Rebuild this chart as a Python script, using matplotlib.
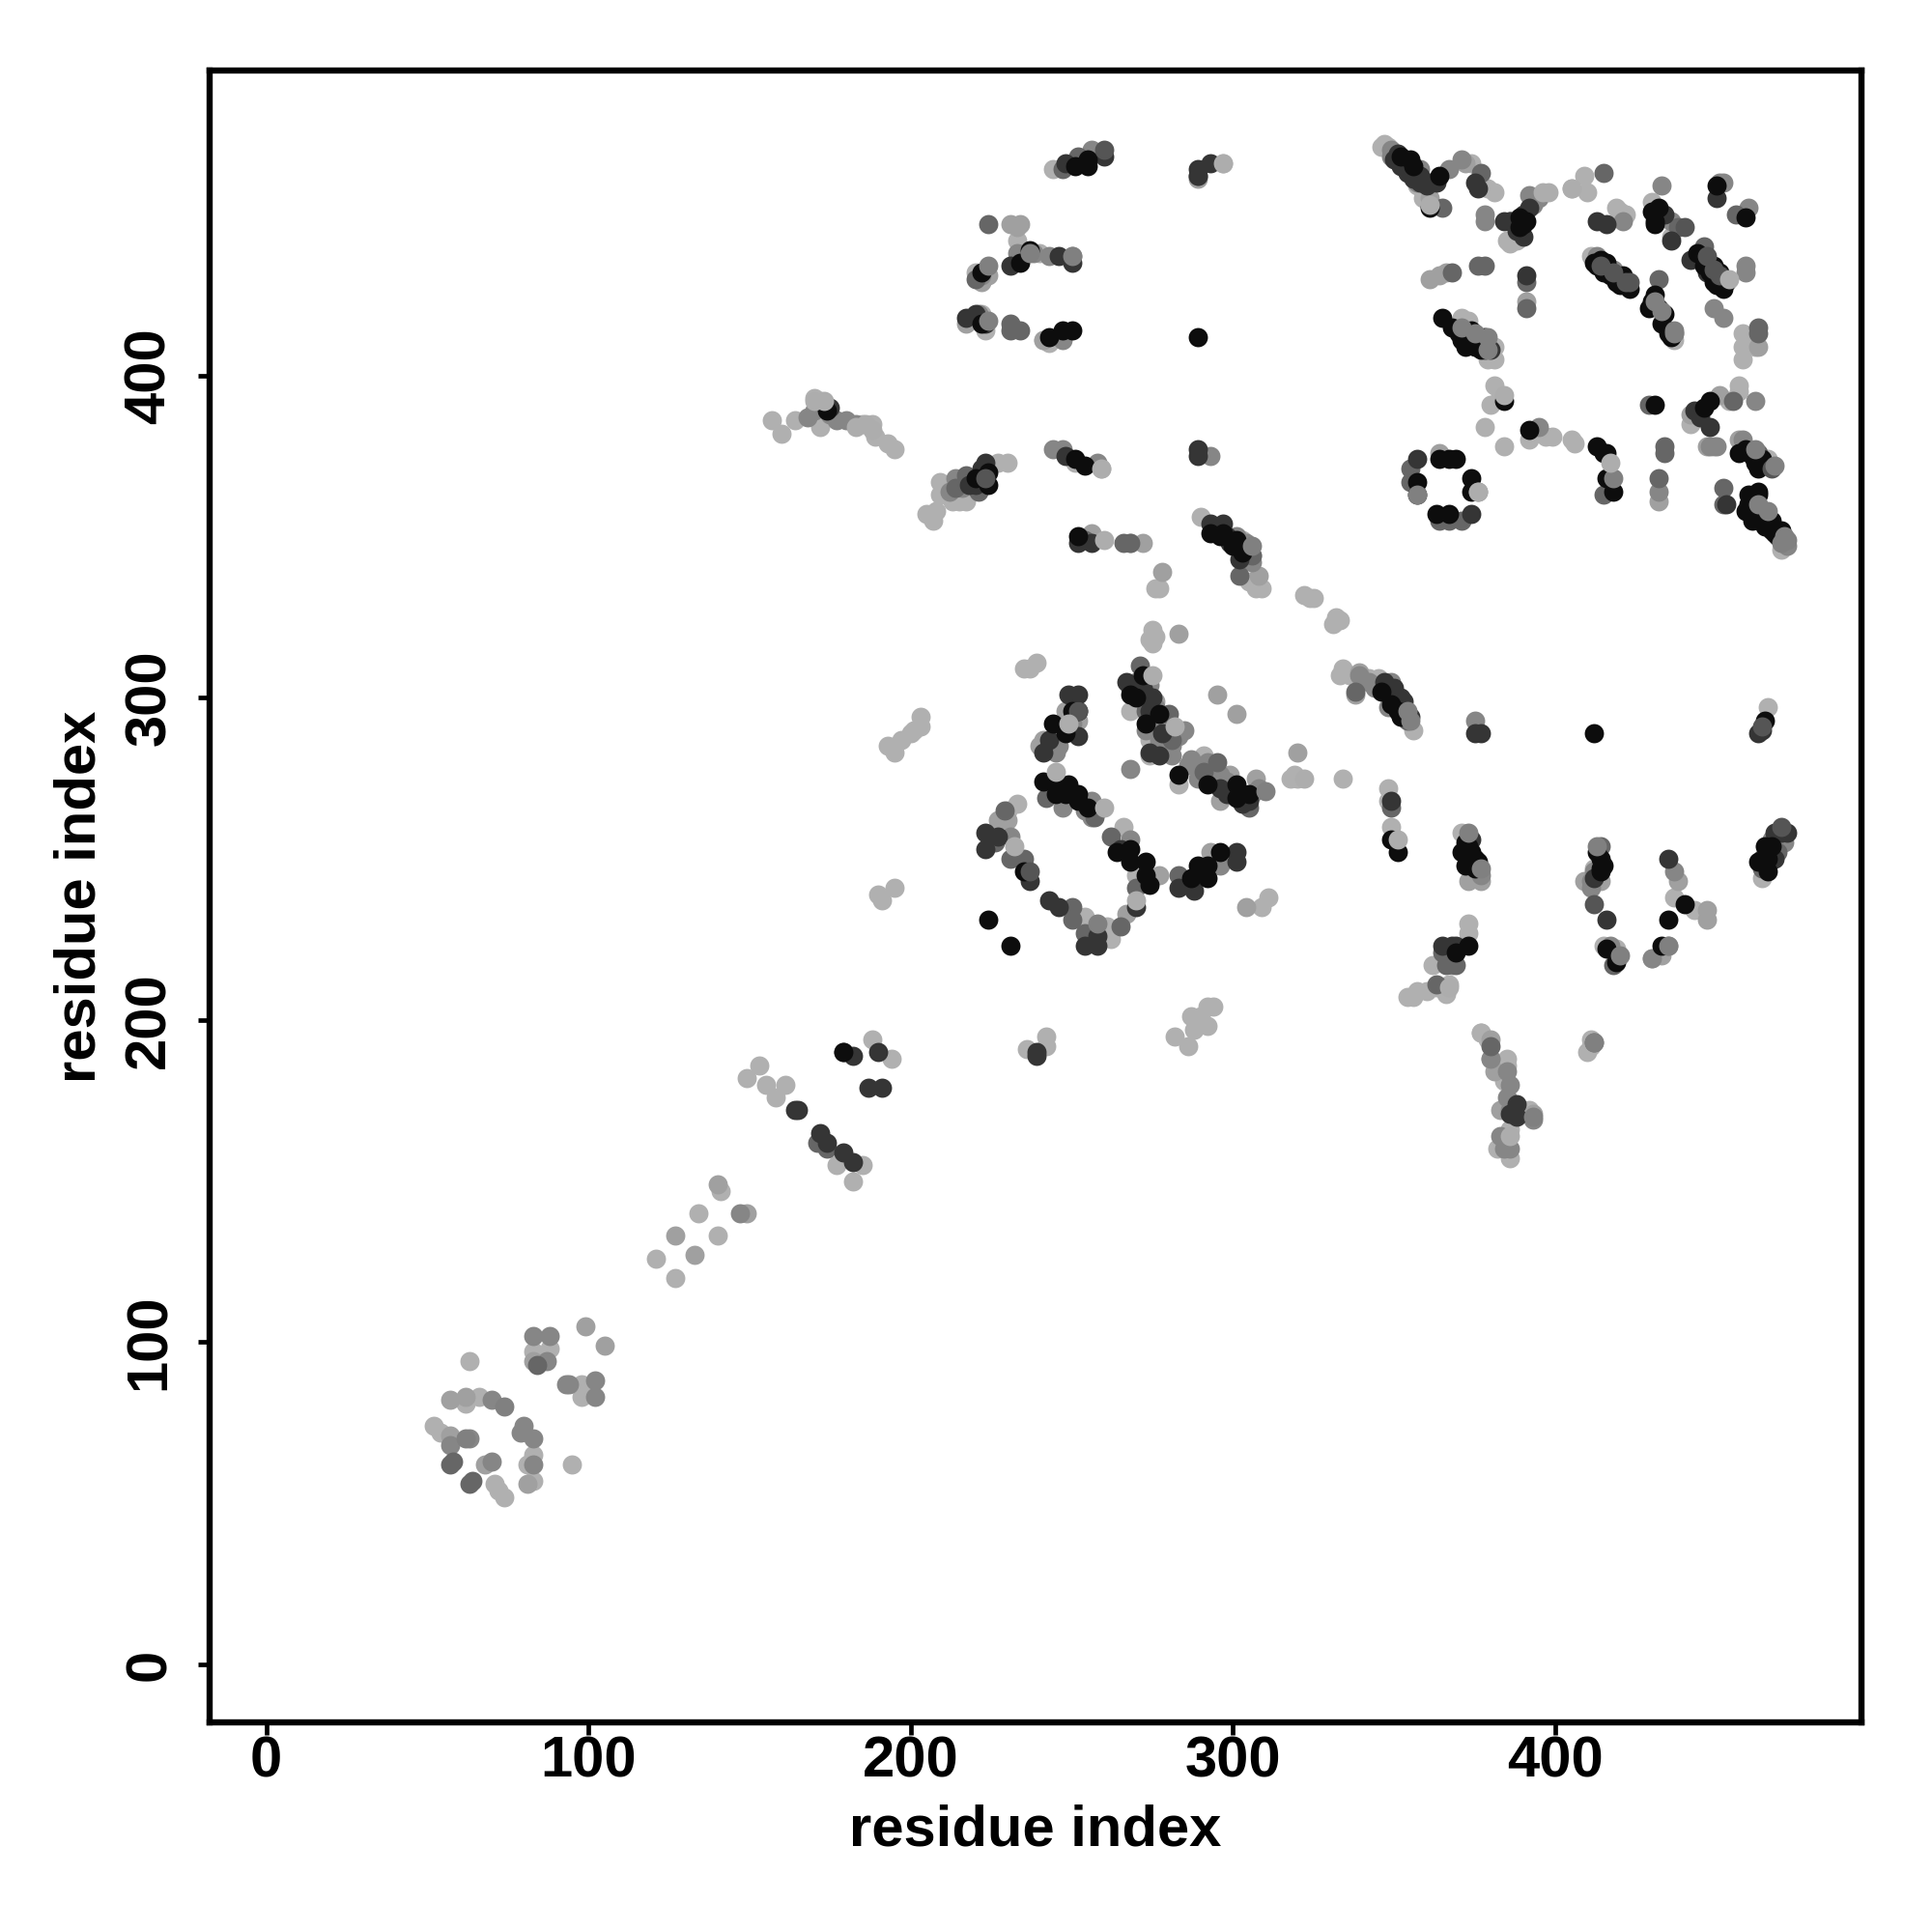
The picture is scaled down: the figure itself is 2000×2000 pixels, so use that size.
import matplotlib
matplotlib.use("Agg")
import matplotlib.pyplot as plt

# contact points as (residue i, residue j), one list per grey level
light = [(346,471),(347,472),(348,471),(357,459),(359,455),(361,453),(374,466),(379,458),(381,457),(385,442),(388,442),(386,441),
         (405,458),(409,462),(410,457),(420,451),(419,452),(422,450),(430,454),(436,443),(411,437),(437,411),(458,413),(458,409),(462,409),(458,405),
         (381,409),(381,405),(379,405),(373,417),(371,418),(381,397),(380,391),(383,394),(378,384),(384,378),(392,380),(405,380),(406,379),(395,383),(397,381),(399,381),
         (457,397),(457,395),(454,392),(442,385),(458,378),(466,374),(471,347),(470,346),(461,356),(465,254),
         (244,464),(297,466),(233,442),(220,432),(222,419),(223,414),(241,411),(243,410),(240,438),(227,373),(230,373),(209,367),(209,363),(213,361),(215,361),(207,355),(205,357),(208,358),(217,361),(259,371),(251,373),
         (290,356),(303,349),(307,334),(309,334),(305,336),(276,334),(277,334),(324,331),(325,331),(322,332),(331,323),(332,325),(333,324),
         (334,308),(333,307),(338,307),(342,306),(345,306),(349,303),(356,290),(348,272),(348,268),(349,260),(371,258),(377,196),(373,230),(373,227),(362,217),(363,210),(357,209),(356,207),(354,207),(360,209),(367,211),(366,208),
         (385,188),(411,194),(411,192),(410,190),(466,297),(464,244),(334,275),(412,247),(415,223),(419,222),(443,234),(437,238),
         (275,321),(276,319),(275,317),(274,318),(235,309),(237,309),(239,311),(268,296),(274,287),(274,282),(283,273),(291,282),(320,275),(318,275),(319,276),(334,309),(336,307),(233,267),(230,265),(254,232),(256,228),(262,225),(261,229),(266,260),(270,245),(309,235),(311,238),
         (191,237),(190,239),(195,241),(193,285),(195,283),(197,287),(200,289),(203,291),(203,294),(201,290),
         (157,386),(160,382),(164,386),(170,393),(172,392),(172,384),(185,385),(188,385),(189,381),(193,379),(195,377),
         (149,182),(153,186),(155,180),(161,180),(158,176),(177,155),(185,155),(182,150),(188,194),(194,188),
         (294,204),(292,204),(290,201),(287,201),(292,198),(288,197),(282,195),(286,192),(236,191),(242,195),(242,192),
         (141,147),(134,140),(140,133),(121,126),(127,120),(83,97),(88,98),(63,94),(98,87),(98,83),(62,81),(66,83),(52,74),(54,72),(71,56),(72,54),(74,52),(83,65),(81,62),(83,57),(95,62),
         (377,196),(379,194),(385,186),(384,181),(392,172),(390,172),(386,166),(382,160),(386,157)]

midlight = [(364,376),(372,466),(361,455),(391,423),(442,388),(451,394),(463,409),
            (366,432),(364,431),(361,430),(432,361),(449,378),(447,378),(457,380),
            (224,431),(222,429),(231,447),(234,447),(233,446),(241,411),(218,417),(217,416),(241,287),(289,461),(256,351),(272,348),(268,348),(278,339),(308,338),(306,344),(277,245),
            (338,301),(344,304),(373,243),(419,218),(430,219),(414,243),(413,243),(377,243),(380,194),(433,220),(438,243),(447,234),(447,231),
            (248,296),(252,293),(240,285),(276,299),(296,268),(299,276),(307,275),(295,301),(301,295),(320,283),(339,308),(227,262),(230,262),(267,233),(293,252),(304,235),(283,320),(409,243),
            (140,149),(127,133),(133,127),(105,99),(99,105),(83,94),(57,82),(62,83),(57,71),(68,62),(81,56),(149,140),(380,188),(381,184),(383,172),(393,171)]

mid = [(349,470),(350,469),(356,462),(357,461),(367,464),(371,467),(378,450),(378,448),(392,456),(421,448),(436,448),(449,421),(452,418),(451,460),(460,452),(459,434),(459,432),(433,459),(437,413),(395,384),(452,460),(413,437),(418,433),(462,392),(357,460),
       (256,470),(285,290),(222,431),(247,411),(244,377),(247,377),(258,373),(301,350),(293,375),(243,437),(233,438),(238,438),(245,283),(250,437),(221,419),
       (348,297),(350,301),(339,307),(350,298),(375,293),(412,246),(411,243),(417,223),(435,223),(437,246),(368,217),(367,221),(342,305),(458,380),(470,256),(468,254),
       (380,188),(385,184),(386,180),(385,176),(386,172),(384,160),
       (287,281),(278,291),(295,273),(250,292),(250,270),(256,268),(231,257),(277,287),(273,290),(268,278),(283,288),(282,290),(292,280),
       (83,102),(88,102),(87,94),(93,87),(94,87),(102,88),(102,83),(70,82),(63,70),(57,68),(80,74),(79,72),(83,70),(83,62),(70,63),(147,140),
       (448,378),(450,378),(432,364),(268,256),(296,248),(430,219),(383,164),(386,160),(393,169)]

middark = [(353,467),(377,463),(365,452),(391,429),(391,421),(456,450),(455,392),(464,357),(368,432),(376,434),(378,434),(438,446),
           (252,468),(247,464),(224,447),(220,430),(231,416),(231,414),(234,414),(254,349),(289,462),(306,344),(302,338),(266,348),(268,348),
           (217,369),(221,364),(214,365),(338,302),(351,300),(354,293),(434,378),(452,360),(434,376),(463,415),
           (349,266),(414,254),(464,247),(469,252),(365,221),(369,217),(366,217),(363,211),(380,192),(412,193),(418,217),
           (271,310),(273,296),(280,295),(281,287),(262,257),(295,280),(291,277),(305,266),(242,269),(257,263),(229,265),(226,255),(231,250),(235,250),(250,235),(250,231),(254,227),(265,229),(283,245),(270,241),
           (84,93),(57,62),(63,56),(58,63),(64,57),
           (415,363),(364,355),(355,371),(355,367),(367,355),(371,355),(415,463),(432,368),(429,391),(463,376),(452,365),(446,440),(432,430),(171,162),(174,160),(463,413)]

dark = [(351,469),(354,465),(358,460),(361,460),(363,460),(376,458),(375,460),(384,448),(386,448),(390,443),(413,448),(416,447),(434,450),(436,442),(442,436),(446,436),(447,432),(450,455),(376,412),(380,408),(391,431),(448,384),(443,389),(445,387),(374,357),(357,374),
        (248,466),(260,468),(289,464),(293,466),(289,462),(231,434),(217,418),(220,419),(223,416),(246,437),(250,435),(223,373),(248,375),(289,377),(289,375),(252,348),(256,348),(293,354),(297,354),
        (349,268),(375,289),(377,289),(369,223),(368,223),(365,223),(435,250),(416,231),(468,258),(466,248),(453,360),(464,290),(463,289),
        (249,301),(252,301),(241,283),(267,305),(273,301),(277,282),(223,258),(223,253),(227,257),(237,243),(243,237),(246,235),(258,226),(254,223),(258,223),(270,235),(265,253),(283,241),(301,252),(301,249),(288,240),
        (164,172),(165,172),(172,165),(174,162),(179,159),(182,156),(187,179),(191,179),(190,190),(239,190),(239,189),(179,190),(182,189),(388,174),(386,171),(388,170)]

black = [(352,468),(355,467),(356,465),(364,462),(361,452),(391,448),(389,446),(390,447),(431,448),(430,451),(432,452),(431,447),(416,435),(418,431),(421,431),(420,428),(449,434),(451,432),(449,429),(451,429),(450,431),(459,449),(450,459),
         (365,418),(368,415),(374,414),(376,412),(378,412),(384,392),(392,383),(413,378),(415,376),(416,376),(418,364),(416,368),(431,391),(448,392),(446,390),(457,376),(463,364),(460,363),(463,363),(460,360),(467,355),(465,353),(468,351),(470,350),
         (357,367),(357,363),(364,374),(367,374),(369,374),(374,368),(374,364),(363,357),(367,357),
         (251,465),(255,465),(255,467),(222,432),(234,435),(237,439),(222,416),(243,412),(247,414),(250,414),(289,412),(251,374),(254,372),(293,351),(296,350),(300,347),(220,368),(252,350),
         (346,302),(351,296),(349,256),(351,252),(372,255),(371,252),(375,250),(375,247),(412,289),(414,250),(414,247),(416,222),(419,218),(435,231),(440,236),(417,368),(433,223),(373,223),(369,221),(466,250),(465,254),(465,293),
         (252,296),(244,292),(248,289),(273,292),(268,301),(272,307),(277,295),(241,274),(245,273),(245,270),(249,273),(252,268),(235,246),(224,231),(231,223),(268,253),(273,249),(274,242),(287,244),(289,248),(292,248),(292,244),(296,252),(283,276),(292,273),(301,273),(301,269),(305,270),(268,249),(273,245),
         (174,389),(179,190),(264,252)]

# thick parts of the diagonal streaks
streak_mid = [(349,468),(351,467),(353,465),(355,463),(357,463),(358,464),(393,453),(395,455),(344,303),(347,304),(349,305),(352,297),(353,295),
              (175,388),(177,386),(180,386),(183,385),(170,389),(168,387),(296,352),(300,348),(302,346),(304,348),(306,342),(212,364),(214,368),(216,365),
              (377,245),(411,241),(467,256),(471,255),(469,258),(247,266),(254,265),(256,263),(258,265),(246,285),(270,305),(274,304),(276,297),(279,292),(280,288),(281,285),(278,284),(281,282),
              (286,279),(289,275),(292,278),(296,276),(298,274),(300,272),(302,270),(304,268),(306,270),(308,272),(472,347)]
streak_dark = [(350,467),(352,465),(354,463),(356,461),(358,462),(360,459),(386,448),(388,445),(390,450),(392,452),(378,408),(347,305),(350,303),(352,300),(353,299),(355,294),
               (175,390),(295,352),(298,350),(299,348),(303,346),(302,343),(220,366),(222,371),(218,366),(374,256),(412,244),(466,252),(468,250),(464,250),(470,258),(472,258),
               (243,287),(252,288),(269,304),(272,303),(275,300),(274,296),(278,289),(268,303),(274,283),(296,272),(298,270),(303,267),(305,268)]
streak_black = [(413,434),(415,432),(417,431),(419,429),(421,429),(423,427),(412,435),(414,436),(430,423),(432,421),(434,419),(433,416),(435,413),(436,412),(431,425),(429,421),
                (444,438),(446,434),(448,432),(450,428),(452,427),(453,429),(370,413),(371,411),(372,409),(374,411),(373,413),(375,409),(377,408),(389,449),
                (459,377),(461,375),(462,373),(464,374),(463,371),(459,358),(461,355),(463,358),(465,356),(467,352),(469,350),(470,352),
                (349,298),(352,294),(297,351),(301,349),(303,345),(224,366),(224,370),(373,254),(373,250),(374,252),(376,249),(372,248),(413,252),(414,246),(415,248),
                (467,254),(463,249),(466,246),(248,270),(252,270),(255,266),(248,291),(250,296),(270,300)]

# points that sit on top of the others in the picture
top_dark = [(260,470),(223,368),(237,246),(440,446),(412,236),(252,296),(423,429),(467,371),(464,291),(470,260),(414,434),(418,432),(422,429),(447,437),(449,433),(451,431)]
top_mid = [(224,434),(224,417),(376,364),(306,347),(237,438),(373,258),(377,247),(420,220),(435,223),(418,368),(412,193),(310,271),(258,230),(250,437),(74,80),(62,70),(357,363),(437,413),(393,170),(413,254),
           (433,420),(437,414),(431,423),(371,415),(375,413),(379,412),(379,408),(462,377),(468,372),(463,360),(466,358),(471,350),(470,348),(472,349),(354,296),(355,293)]
top_light = [(361,453),(454,430),(384,394),(417,373),(259,371),(275,307),(245,277),(249,292),(232,254),(282,291),(260,266),(322,275),(270,237),(376,364),(367,210),(351,256),(405,458),(386,164),(398,457),(297,466),(260,349),(396,457),
             (170,392),(173,392),(188,383),(186,385),(183,384)]

fig = plt.figure(figsize=(20, 20), dpi=100)
ax = fig.add_axes([0.1084, 0.1085, 0.8551, 0.8551])

levels = [(light, "#b0b0b0"), (midlight, "#a0a0a0"), (mid, "#868686"), (streak_mid, "#868686"), (middark, "#666666"), (dark, "#353535"), (streak_dark, "#353535"),
          (black, "#0d0d0d"), (streak_black, "#0d0d0d"), (top_dark, "#555555"), (top_mid, "#808080"), (top_light, "#adadad")]
for pts, col in levels:
    xs = [p[0] for p in pts]
    ys = [p[1] for p in pts]
    ax.scatter(xs, ys, s=205, c=col, linewidths=0)

ax.set_xlim(-17.6, 495)
ax.set_ylim(-18, 494.7)
ax.set_xticks([0, 100, 200, 300, 400])
ax.set_yticks([0, 100, 200, 300, 400])

for s in ax.spines.values():
    s.set_linewidth(4.6)
ax.tick_params(axis="both", length=9, width=3.4, labelsize=43)
ax.tick_params(axis="x", pad=1)
ax.tick_params(axis="y", pad=15.5)
for t in ax.get_xticklabels():
    t.set_fontfamily("Liberation Sans")
    t.set_fontweight("bold")
for t in ax.get_yticklabels():
    t.set_fontfamily("Liberation Sans")
    t.set_fontweight("bold")
    t.set_rotation(90)
    t.set_va("center")

ax.set_xlabel("residue index", fontsize=43, fontweight="bold", fontfamily="Liberation Sans", labelpad=11)
ax.set_ylabel("residue index", fontsize=43, fontweight="bold", fontfamily="Liberation Sans", labelpad=12.5)

fig.savefig("out.png", dpi=100)
